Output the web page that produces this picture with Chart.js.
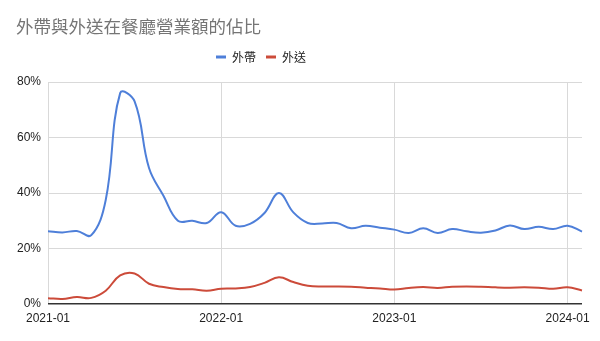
<!DOCTYPE html>
<html lang="zh-Hant">
<head>
    <meta charset="UTF-8">
    <title>外帶與外送在餐廳營業額的佔比</title>
    <script src="https://cdn.jsdelivr.net/npm/chart.js"></script>
    <style>
        body {
            margin: 0;
            background: #fff;
        }
        #wrap {
            width: 600px;
            height: 341px;
        }
    </style>
</head>
<body>
    <div id="wrap">
        <canvas id="shareChart"></canvas>
    </div>

    <script>
        // months 2021-01 .. 2024-02
        const months = [
            "2021-01", "2021-02", "2021-03", "2021-04", "2021-05", "2021-06",
            "2021-07", "2021-08", "2021-09", "2021-10", "2021-11", "2021-12",
            "2022-01", "2022-02", "2022-03", "2022-04", "2022-05", "2022-06",
            "2022-07", "2022-08", "2022-09", "2022-10", "2022-11", "2022-12",
            "2023-01", "2023-02", "2023-03", "2023-04", "2023-05", "2023-06",
            "2023-07", "2023-08", "2023-09", "2023-10", "2023-11", "2023-12",
            "2024-01", "2024-02"
        ];

        // share of revenue, percent
        const takeout = [
            26.2, 25.8, 26.3, 24.8, 37.5, 76, 73, 49, 39, 30, 30, 29.2,
            33.1, 28.2, 28.9, 32.8, 40, 33, 29.2, 29, 29.2, 27.3, 28.2, 27.5,
            26.8, 25.6, 27.3, 25.6, 27, 26.2, 25.7, 26.5, 28.3, 27, 27.8, 27,
            28.2, 26.1
        ];
        const delivery = [
            2.1, 1.8, 2.5, 2.2, 4.8, 10.3, 11, 7.3, 6.1, 5.4, 5.3, 4.8,
            5.5, 5.6, 6.1, 7.6, 9.6, 7.9, 6.6, 6.3, 6.3, 6.2, 5.9, 5.6,
            5.2, 5.8, 6.1, 5.8, 6.2, 6.3, 6.2, 6.0, 5.9, 6.0, 5.9, 5.5,
            6.0, 4.9
        ];

        const yTicks = [0, 20, 40, 60, 80];

        const font = "Arial, 'Liberation Sans', 'Noto Sans CJK TC', sans-serif";
        Chart.defaults.font.family = font;

        // legend sits a bit left of centre and leaves a gap above the plot
        const legendTweak = {
            id: "legendTweak",
            afterInit(chart) {
                const lg = chart.legend;
                const fit = lg.fit;
                lg.fit = function () {
                    fit.call(this);
                    this.height += 9;
                };
            },
            afterLayout(chart) {
                chart.legend.left -= 38;
                chart.legend.right -= 38;
            }
        };

        const ctx = document.getElementById("shareChart").getContext("2d");
        new Chart(ctx, {
            type: "line",
            data: {
                labels: months,
                datasets: [
                    {
                        label: "外帶",
                        data: takeout,
                        borderColor: "#4e7fd9",
                        backgroundColor: "#4e7fd9",
                        borderWidth: 2,
                        pointRadius: 0,
                        tension: 0.4
                    },
                    {
                        label: "外送",
                        data: delivery,
                        borderColor: "#cc4b3a",
                        backgroundColor: "#cc4b3a",
                        borderWidth: 2,
                        pointRadius: 0,
                        tension: 0.4
                    }
                ]
            },
            plugins: [legendTweak],
            options: {
                responsive: true,
                maintainAspectRatio: false,
                animation: false,
                layout: {
                    padding: { left: 16, right: 18, top: 0, bottom: 0 }
                },
                plugins: {
                    title: {
                        display: true,
                        text: "外帶與外送在餐廳營業額的佔比",
                        align: "start",
                        color: "#757575",
                        font: { size: 17.5, weight: "normal", family: "'Noto Sans CJK TC', sans-serif" },
                        padding: { top: 16, bottom: 4 }
                    },
                    legend: {
                        labels: {
                            boxWidth: 10,
                            boxHeight: 3,
                            padding: 10,
                            color: "#222",
                            font: { size: 12, family: "'Noto Sans CJK TC', sans-serif" },
                            generateLabels: (chart) =>
                                Chart.defaults.plugins.legend.labels.generateLabels(chart)
                                    .map(l => ({ ...l, lineWidth: 0 }))
                        }
                    },
                    tooltip: { enabled: false }
                },
                scales: {
                    x: {
                        border: { display: false },
                        afterFit: (s) => { s.height = 37; },
                        grid: {
                            drawTicks: false,
                            color: (c) => (c.tick && months[c.tick.value] && months[c.tick.value].endsWith("-01")) ? "#d9d9d9" : "rgba(0,0,0,0)"
                        },
                        ticks: {
                            autoSkip: false,
                            maxRotation: 0,
                            padding: 7,
                            color: "#222",
                            font: { size: 12 },
                            callback: (v) => months[v].endsWith("-01") ? months[v] : ""
                        }
                    },
                    y: {
                        min: 0,
                        max: 80,
                        border: { display: false },
                        afterFit: (s) => { s.width = 32; },
                        afterBuildTicks: (s) => { s.ticks = yTicks.map(v => ({ value: v })); },
                        grid: {
                            drawTicks: false,
                            color: (c) => c.tick && c.tick.value === 0 ? "#333" : "#d9d9d9",
                            lineWidth: (c) => c.tick && c.tick.value === 0 ? 1.5 : 1
                        },
                        ticks: {
                            padding: 7,
                            color: "#222",
                            font: { size: 12 },
                            callback: (v) => v + "%"
                        }
                    }
                }
            }
        });
    </script>
</body>
</html>
